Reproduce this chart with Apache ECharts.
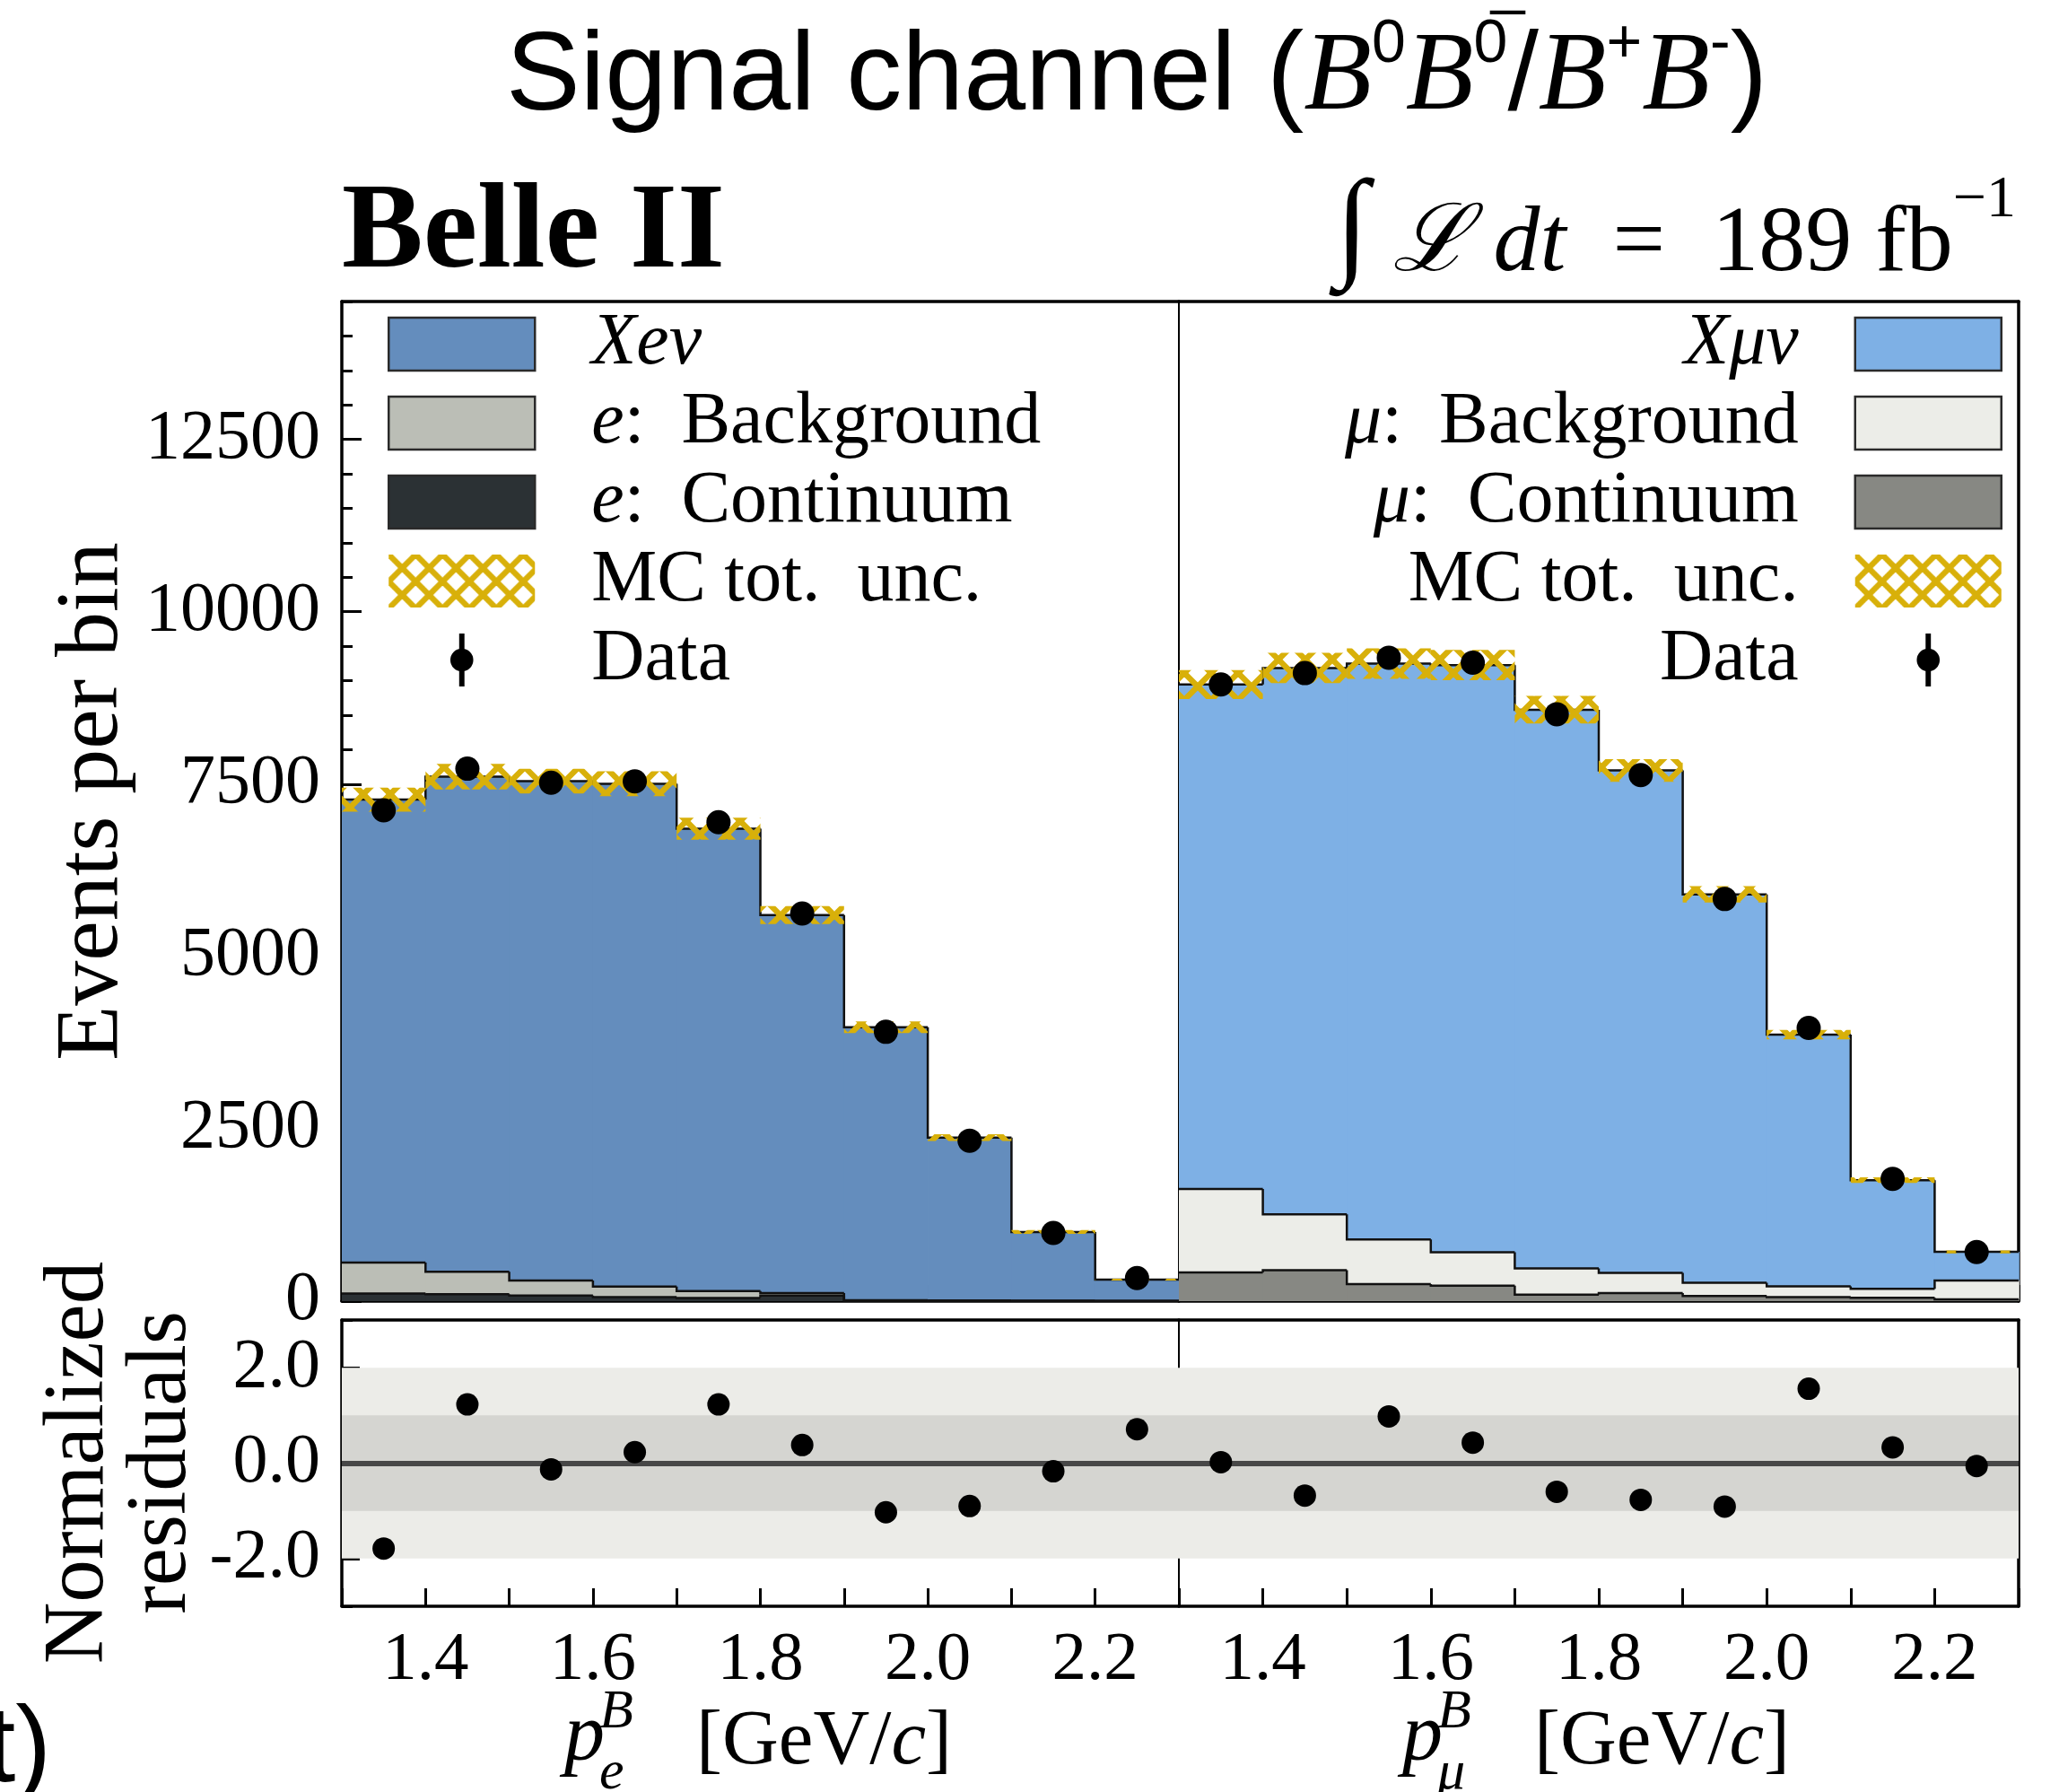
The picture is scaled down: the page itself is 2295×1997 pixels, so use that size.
<!DOCTYPE html>
<html>
<head>
<meta charset="utf-8">
<script src="https://cdn.jsdelivr.net/npm/echarts@6/dist/echarts.min.js"></script>
<style>
  html, body { margin: 0; padding: 0; background: #ffffff; }
  #chart { width: 2295px; height: 1997px; }
</style>
</head>
<body>
<div id="chart"></div>
<script>
// ---- binning and tick labels ----
const binEdges = [1.3, 1.4, 1.5, 1.6, 1.7, 1.8, 1.9, 2.0, 2.1, 2.2, 2.3];
const binCenters = [1.35, 1.45, 1.55, 1.65, 1.75, 1.85, 1.95, 2.05, 2.15, 2.25];
const xTickLabels = [1.4, 1.6, 1.8, 2.0, 2.2];
const eventsTicks = [0, 2500, 5000, 7500, 10000, 12500];
const residTicks = [-2, 0, 2];
const residBands = [2, 1];

// ---- electron channel (events per bin) ----
const eContinuum  = [110, 100, 80, 60, 45, 80, 8, 5, 3, 2];
const eBackground = [450, 327, 218, 150, 100, 37, 6, 4, 3, 2];
const eSignal     = [6715, 7180, 7245, 7295, 6707, 5483, 3958, 2363, 997, 309];
const eMcUnc      = [175, 185, 180, 180, 160, 130, 85, 50, 28, 14];
const eData       = [7119, 7724, 7521, 7540, 6947, 5622, 3907, 2328, 990, 335];
const eResidual   = [-1.79, 1.23, -0.13, 0.23, 1.23, 0.38, -1.03, -0.90, -0.17, 0.71];

// ---- muon channel (events per bin) ----
const muContinuum  = [418, 449, 246, 224, 95, 117, 74, 60, 48, 25];
const muBackground = [1210, 811, 648, 484, 380, 293, 194, 156, 132, 273];
const muSignal     = [7317, 7924, 8354, 8518, 8104, 7288, 5633, 3651, 1575, 417];
const muMcUnc      = [210, 220, 220, 220, 200, 165, 120, 68, 40, 22];
const muData       = [8945, 9110, 9334, 9260, 8514, 7630, 5833, 3963, 1775, 712];
const muResidual   = [0.02, -0.68, 0.98, 0.43, -0.60, -0.77, -0.91, 1.56, 0.33, -0.06];

// ---- styling ----
const SERIF = 'Liberation Serif';
const SANS = 'Liberation Sans';
const COL = {
  eSig: '#648DBD', eBkg: '#BBBEB6', eCont: '#2B3134',
  muSig: '#7EB0E5', muBkg: '#ECEDE8', muCont: '#878883',
  hatch: '#D8B00A', edge: '#111111',
  bandOuter: '#ECECE8', bandInner: '#D5D5D1', zero: '#474747'
};
const FRAME = 3.5;
const Y_MAX = 14500;

function makeHatch(color, size, lw) {
  const c = document.createElement('canvas');
  c.width = size; c.height = size;
  const g = c.getContext('2d');
  g.strokeStyle = color; g.lineWidth = lw;
  for (let k = -2; k <= 2; k++) {
    g.beginPath(); g.moveTo(k * size - size, -size); g.lineTo(k * size + 2 * size, 2 * size); g.stroke();
    g.beginPath(); g.moveTo(k * size + 2 * size, -size); g.lineTo(k * size - size, 2 * size); g.stroke();
  }
  return c;
}
const hatchFill = { image: makeHatch(COL.hatch, 30, 6.5), repeat: 'repeat' };

// one stacked step layer of a histogram: fill per bin + black step outline on top
function stackLayer(name, layers, li, color, xi, yi) {
  const lower = binCenters.map((_, i) => layers.slice(0, li).reduce((s, a) => s + a[i], 0));
  const upper = lower.map((v, i) => v + layers[li][i]);
  return {
    type: 'custom', name: name, xAxisIndex: xi, yAxisIndex: yi, z: 2, silent: true,
    data: upper.map((u, i) => [binEdges[i], binEdges[i + 1], lower[i], u, i > 0 ? upper[i - 1] : u]),
    renderItem: function (params, api) {
      const x0 = api.value(0), x1 = api.value(1), lo = api.value(2), hi = api.value(3), prev = api.value(4);
      const bl = api.coord([x0, lo]);
      const tr = api.coord([x1, hi]);
      const pv = api.coord([x0, prev]);
      return {
        type: 'group',
        children: [
          { type: 'rect', z2: 0,
            shape: { x: bl[0], y: tr[1], width: tr[0] - bl[0] + 0.8, height: bl[1] - tr[1] },
            style: { fill: color } },
          { type: 'polyline', z2: 5,
            shape: { points: [pv, [bl[0], tr[1]], tr] },
            style: { stroke: COL.edge, lineWidth: 2.5, fill: null } }
        ]
      };
    }
  };
}

function uncBand(name, layers, unc, xi, yi) {
  const total = binCenters.map((_, i) => layers.reduce((s, a) => s + a[i], 0));
  return {
    type: 'custom', name: name, xAxisIndex: xi, yAxisIndex: yi, z: 4, silent: true,
    data: total.map((t, i) => [binEdges[i], binEdges[i + 1], t - unc[i], t + unc[i]]),
    renderItem: function (params, api) {
      const a = api.coord([api.value(0), api.value(3)]);
      const b = api.coord([api.value(1), api.value(2)]);
      return { type: 'rect', shape: { x: a[0], y: a[1], width: b[0] - a[0], height: b[1] - a[1] },
               style: { fill: hatchFill } };
    }
  };
}

function dataPoints(name, values, xi, yi) {
  return {
    type: 'scatter', name: name, xAxisIndex: xi, yAxisIndex: yi, z: 10, silent: true,
    symbol: 'circle', symbolSize: 27, itemStyle: { color: '#000', opacity: 1 },
    data: binCenters.map((x, i) => [x, values[i]])
  };
}

function residualSeries(values, xi, yi) {
  return [
    {
      type: 'custom', xAxisIndex: xi, yAxisIndex: yi, z: 1, silent: true,
      data: residBands.map(b => [-b, b]),
      renderItem: function (params, api) {
        const a = api.coord([binEdges[0], api.value(1)]);
        const b = api.coord([binEdges[binEdges.length - 1], api.value(0)]);
        return { type: 'rect', shape: { x: a[0], y: a[1], width: b[0] - a[0], height: b[1] - a[1] },
                 style: { fill: params.dataIndex === 0 ? COL.bandOuter : COL.bandInner } };
      },
      markLine: {
        silent: true, symbol: ['none', 'none'], label: { show: false }, z: 3,
        lineStyle: { color: COL.zero, width: 6, type: 'solid' },
        data: [{ yAxis: 0 }]
      }
    },
    {
      type: 'scatter', xAxisIndex: xi, yAxisIndex: yi, z: 10, silent: true,
      symbol: 'circle', symbolSize: 25, itemStyle: { color: '#000', opacity: 1 },
      data: binCenters.map((x, i) => [x, values[i]])
    }
  ];
}

// ---- axes ----
const X_RANGE = { type: 'value', min: binEdges[0], max: binEdges[binEdges.length - 1], interval: 0.1 };
function xBottom(gi, withLabels) {
  return Object.assign({}, X_RANGE, {
    gridIndex: gi, position: 'bottom',
    axisLine: { show: true, onZero: false, lineStyle: { color: '#000', width: FRAME } },
    axisTick: { show: true, inside: true, length: withLabels ? 20 : 18, lineStyle: { color: '#000', width: 3 } },
    axisLabel: withLabels ? {
      show: true, customValues: xTickLabels, margin: 22,
      fontFamily: SERIF, fontSize: 77, color: '#000',
      formatter: v => Number(v).toFixed(1)
    } : { show: false },
    splitLine: { show: false }
  });
}
function xTop(gi) {
  return Object.assign({}, X_RANGE, {
    gridIndex: gi, position: 'top',
    axisLine: { show: true, onZero: false, lineStyle: { color: '#000', width: FRAME } },
    axisTick: { show: false }, axisLabel: { show: false }, splitLine: { show: false }
  });
}
function yPlain(gi, min, max, position, width) {
  return {
    type: 'value', gridIndex: gi, min: min, max: max, position: position,
    axisLine: { show: true, onZero: false, lineStyle: { color: '#000', width: width } },
    axisTick: { show: false }, axisLabel: { show: false }, splitLine: { show: false }
  };
}
function yMajor(gi, min, max, interval, ticks, fmt, tickLen) {
  return {
    type: 'value', gridIndex: gi, min: min, max: max, interval: interval, position: 'left',
    axisLine: { show: true, onZero: false, lineStyle: { color: '#000', width: FRAME } },
    axisTick: { show: true, inside: true, length: tickLen, customValues: ticks, lineStyle: { color: '#000', width: 3 } },
    axisLabel: { show: true, customValues: ticks, margin: 24, fontFamily: SERIF, fontSize: 78, color: '#000', formatter: fmt },
    splitLine: { show: false }
  };
}
function yMinor(gi, min, max, interval) {
  return {
    type: 'value', gridIndex: gi, min: min, max: max, interval: interval, position: 'left',
    axisLine: { show: false },
    axisTick: { show: true, inside: true, length: 12, lineStyle: { color: '#000', width: 3 } },
    axisLabel: { show: false }, splitLine: { show: false }
  };
}

// ---- legends ----
const legendText = {
  'Xeν': '{sp| }{it|Xeν}',
  'e: Background': '{sp| }{it|e}{rm|:  Background}',
  'e: Continuum': '{sp| }{it|e}{rm|:  Continuum}',
  'Xμν': '{it|Xμν}{sp| }',
  'μ: Background': '{it|μ}{rm|:  Background}{sp| }',
  'μ: Continuum': '{it|μ}{rm|:  Continuum}{sp| }'
};
const LEG_FS = 82, LEG_LH = 59;
const legendRich = {
  sp: { width: 58, lineHeight: LEG_LH },
  it: { fontFamily: SERIF, fontStyle: 'italic', fontSize: LEG_FS, lineHeight: LEG_LH, color: '#000' },
  rm: { fontFamily: SERIF, fontSize: LEG_FS, lineHeight: LEG_LH, color: '#000' }
};
const DATA_ICON = 'path://M-3,-30L3,-30L3,30L-3,30Z M0,-13A13,13,0,1,1,0,13A13,13,0,1,1,0,-13Z';
function patch(name, color) {
  return { name: name, icon: 'rect', itemStyle: { color: color, borderColor: '#2A2A2A', borderWidth: 2.5 } };
}
function legendBlock(pos, align, items, isRight) {
  return Object.assign({
    orient: 'vertical', align: align, top: 342.5, padding: 0,
    itemWidth: 163, itemHeight: 59, itemGap: 6, selectedMode: false,
    formatter: function (n) {
      if (n === 'MC tot. unc.' || n === 'Data') {
        return isRight ? '{rm|' + (n === 'Data' ? 'Data' : 'MC tot.  unc.') + '}{sp| }'
                       : '{sp| }{rm|' + (n === 'Data' ? 'Data' : 'MC tot.  unc.') + '}';
      }
      return legendText[n];
    },
    textStyle: { fontFamily: SERIF, fontSize: LEG_FS, color: '#000', lineHeight: LEG_LH, rich: legendRich },
    data: items
  }, pos);
}

// ---- figure texts ----
function xTitle(cx, sub) {
  const y0 = 1986;
  return {
    type: 'group', x: cx, y: 0, silent: true,
    children: [
      { type: 'text', x: -219, y: y0 - 4, style: { text: 'p', fontFamily: SERIF, fontStyle: 'italic', fontSize: 90, fill: '#000', verticalAlign: 'bottom' } },
      { type: 'text', x: -180, y: y0 - 46, style: { text: 'B', fontFamily: SERIF, fontStyle: 'italic', fontSize: 62, fill: '#000', verticalAlign: 'bottom' } },
      { type: 'text', x: -180, y: y0 + 22, style: { text: sub, fontFamily: SERIF, fontStyle: 'italic', fontSize: 62, fill: '#000', verticalAlign: 'bottom' } },
      { type: 'text', x: -72, y: y0, style: { text: '{r|[GeV/}{i|c}{r|]}', fill: '#000', verticalAlign: 'bottom',
        rich: { r: { fontFamily: SERIF, fontSize: 87, fill: '#000' }, i: { fontFamily: SERIF, fontStyle: 'italic', fontSize: 87, fill: '#000' } } } }
    ]
  };
}

const chart = echarts.init(document.getElementById('chart'), null, { renderer: 'canvas' });
const eLayers = [eContinuum, eBackground, eSignal];
const muLayers = [muContinuum, muBackground, muSignal];

chart.setOption({
  animation: false,
  backgroundColor: '#ffffff',
  grid: [
    { left: 381, width: 933, top: 336, height: 1114, outerBoundsMode: 'none' },
    { left: 1314, width: 936, top: 336, height: 1114, outerBoundsMode: 'none' },
    { left: 381, width: 933, top: 1471, height: 319, outerBoundsMode: 'none' },
    { left: 1314, width: 936, top: 1471, height: 319, outerBoundsMode: 'none' }
  ],
  xAxis: [
    xBottom(0, false), xTop(0),
    xBottom(1, false), xTop(1),
    xBottom(2, true), xTop(2),
    xBottom(3, true), xTop(3)
  ],
  yAxis: [
    yMajor(0, 0, Y_MAX, 2500, eventsTicks, v => String(v), 22),
    yMinor(0, 0, Y_MAX, 500),
    yPlain(1, 0, Y_MAX, 'left', 2),
    yPlain(1, 0, Y_MAX, 'right', FRAME),
    yMajor(2, -3, 3, 1, residTicks, v => Number(v).toFixed(1), 20),
    yMinor(2, -3, 3, 1),
    yPlain(3, -3, 3, 'left', 2),
    yPlain(3, -3, 3, 'right', FRAME)
  ],
  legend: [
    legendBlock({ left: 432 }, 'left', [
      patch('Xeν', COL.eSig), patch('e: Background', COL.eBkg), patch('e: Continuum', COL.eCont),
      { name: 'MC tot. unc.', icon: 'rect', itemStyle: { color: hatchFill, borderWidth: 0 } },
      { name: 'Data', icon: DATA_ICON, itemStyle: { color: '#000', borderWidth: 0, opacity: 1 } }
    ], false),
    legendBlock({ right: 63 }, 'right', [
      patch('Xμν', COL.muSig), patch('μ: Background', COL.muBkg), patch('μ: Continuum', COL.muCont),
      { name: 'MC tot. unc.', icon: 'rect', itemStyle: { color: hatchFill, borderWidth: 0 } },
      { name: 'Data', icon: DATA_ICON, itemStyle: { color: '#000', borderWidth: 0, opacity: 1 } }
    ], true)
  ],
  series: [
    stackLayer('e: Continuum', eLayers, 0, COL.eCont, 0, 0),
    stackLayer('e: Background', eLayers, 1, COL.eBkg, 0, 0),
    stackLayer('Xeν', eLayers, 2, COL.eSig, 0, 0),
    uncBand('MC tot. unc.', eLayers, eMcUnc, 0, 0),
    dataPoints('Data', eData, 0, 0),

    stackLayer('μ: Continuum', muLayers, 0, COL.muCont, 2, 2),
    stackLayer('μ: Background', muLayers, 1, COL.muBkg, 2, 2),
    stackLayer('Xμν', muLayers, 2, COL.muSig, 2, 2),
    uncBand('MC tot. unc.', muLayers, muMcUnc, 2, 2),
    dataPoints('Data', muData, 2, 2),

    ...residualSeries(eResidual, 4, 4),
    ...residualSeries(muResidual, 6, 6)
  ],
  graphic: [
    { type: 'text', x: 1267, y: 160, silent: true,
      style: {
        text: '{s|Signal channel (}{b|B}{u|0}{b|B}{u|0̅}{s|/}{b|B}{u|+}{b|B}{u|-}{s|)}',
        align: 'center', verticalAlign: 'bottom',
        rich: {
          s: { fontFamily: SANS, fontSize: 124, lineHeight: 144, fill: '#000' },
          b: { fontFamily: SERIF, fontStyle: 'italic', fontSize: 124, lineHeight: 144, fill: '#000' },
          u: { fontFamily: SANS, fontSize: 68, lineHeight: 68, verticalAlign: 'top', fill: '#000' }
        }
      } },
    { type: 'text', x: 381, y: 330, silent: true,
      style: { text: 'Belle II', fontFamily: SERIF, fontWeight: 'bold', fontSize: 136, fill: '#000', align: 'left', verticalAlign: 'bottom' } },
    { type: 'text', x: 2247, y: 326, silent: true,
      style: {
        text: '{i|∫}{l| ℒ}{d| dt}{r|  =  189 fb}{u|−1}',
        align: 'right', verticalAlign: 'bottom',
        rich: {
          i: { fontFamily: SERIF, fontSize: 135, lineHeight: 135, fill: '#000' },
          l: { fontFamily: SERIF, fontStyle: 'italic', fontSize: 104, lineHeight: 120, verticalAlign: 'bottom', fill: '#000' },
          d: { fontFamily: SERIF, fontStyle: 'italic', fontSize: 104, lineHeight: 120, verticalAlign: 'bottom', fill: '#000' },
          r: { fontFamily: SERIF, fontSize: 104, lineHeight: 120, verticalAlign: 'bottom', fill: '#000' },
          u: { fontFamily: SERIF, fontSize: 66, lineHeight: 66, verticalAlign: 'top', fill: '#000' }
        }
      } },
    { type: 'text', x: 104, y: 893, rotation: Math.PI / 2, silent: true,
      style: { text: 'Events per bin', fontFamily: SERIF, fontSize: 100, fill: '#000', align: 'center', verticalAlign: 'middle' } },
    { type: 'text', x: 135, y: 1630, rotation: Math.PI / 2, silent: true,
      style: { text: 'Normalized\nresiduals', fontFamily: SERIF, fontSize: 95, lineHeight: 92, fill: '#000', align: 'center', verticalAlign: 'middle' } },
    xTitle(848, 'e'),
    xTitle(1782, 'μ'),
    { type: 'text', x: -16, y: 2012, silent: true,
      style: { text: 't)', fontFamily: SANS, fontSize: 120, fill: '#000', align: 'left', verticalAlign: 'bottom' } }
  ]
});
</script>
</body>
</html>
